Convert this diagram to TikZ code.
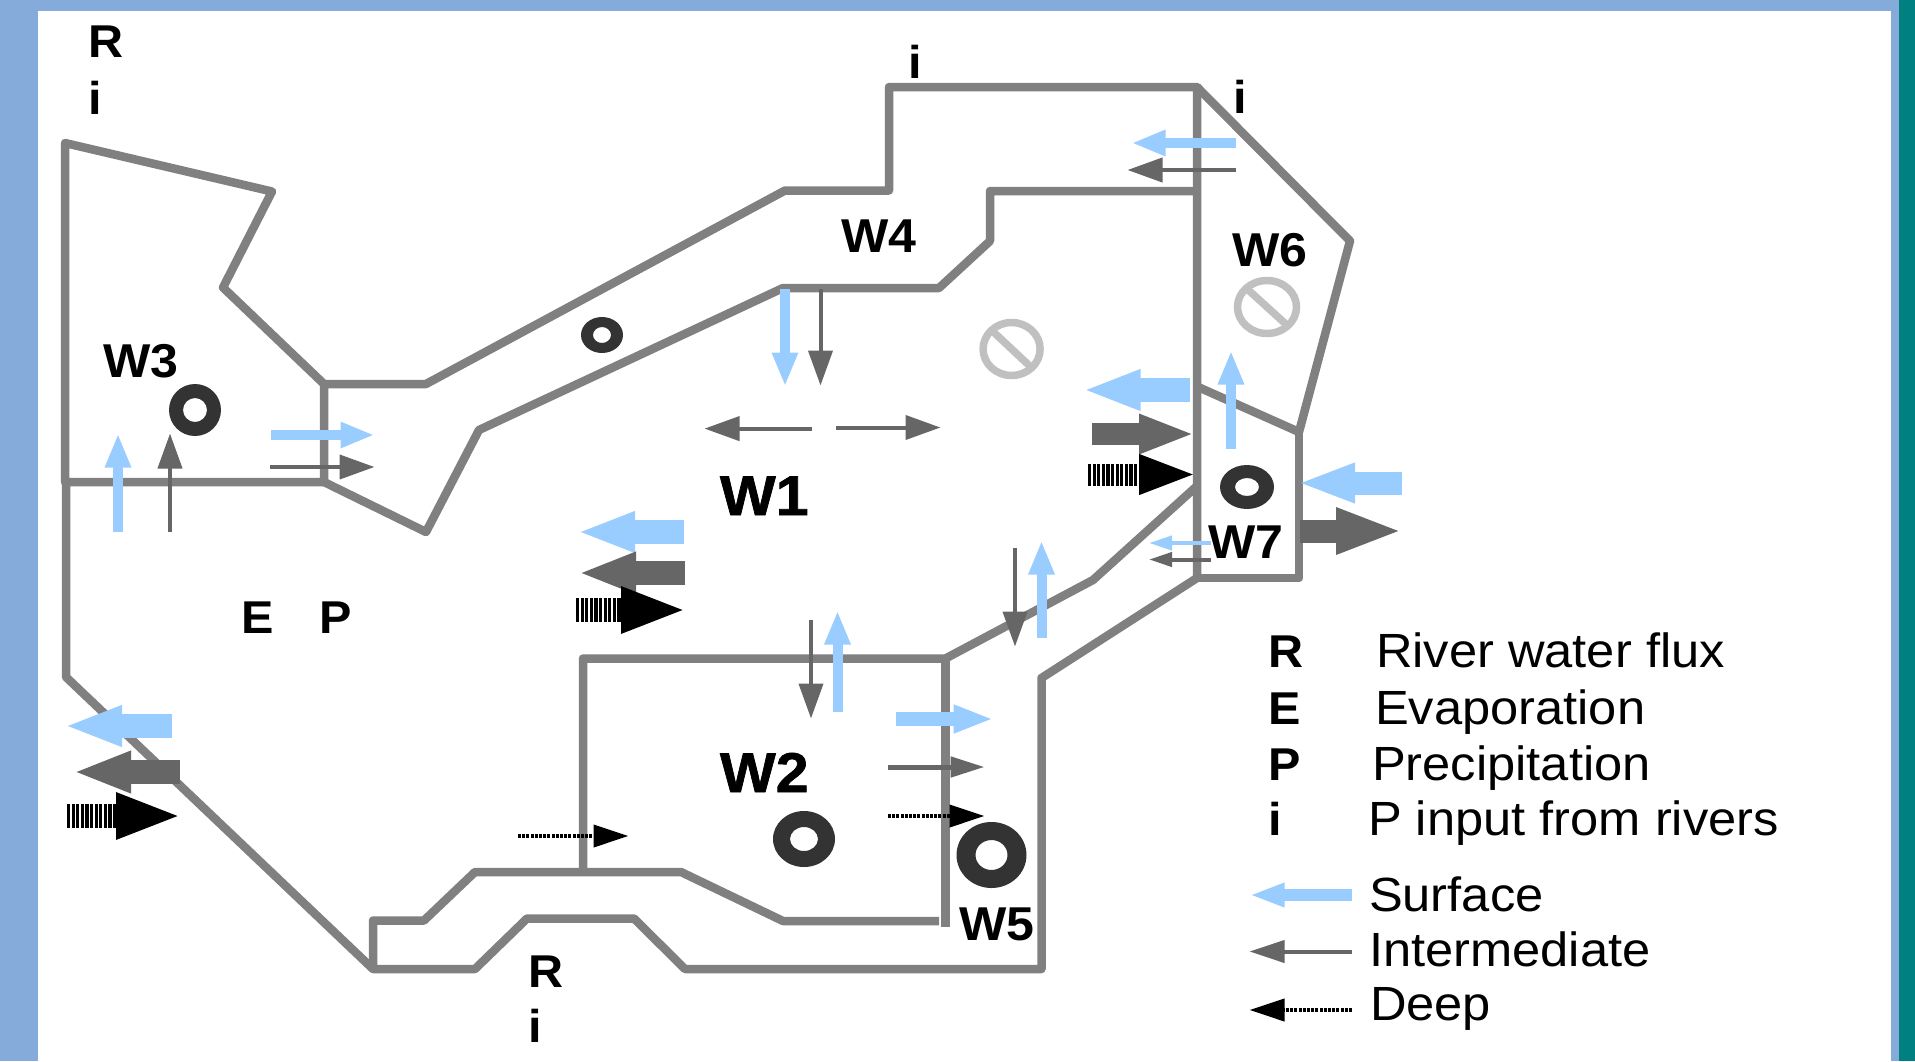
\documentclass[tikz,border=0pt]{standalone}
\usepackage{fontspec}
\setmainfont[FakeStretch=1.055]{Liberation Sans}
\newfontfamily\heavyface[FakeStretch=1.055,BoldFeatures={FakeBold=1.2}]{Liberation Sans}
\usetikzlibrary{arrows.meta}
\definecolor{frameblue}{HTML}{84ABD9}
\definecolor{frameteal}{HTML}{008080}
\definecolor{wall}{HTML}{808080}
\definecolor{surfc}{HTML}{99CCFF}
\definecolor{interc}{HTML}{666666}
\definecolor{ringc}{HTML}{333333}
\definecolor{stopc}{HTML}{C0C0C0}
\tikzset{
  x=1pt,y=-1pt,
  wallline/.style={draw=wall,line width=8.5pt,line join=round},
  lab/.style={anchor=base west,inner sep=0pt,outer sep=0pt,text=black,font=\fontsize{46}{46}\selectfont\bfseries},
  wlab/.style={lab,font=\fontsize{47.5}{48}\selectfont\bfseries},
  biglab/.style={lab,font=\fontsize{56}{56}\heavyface\selectfont\bfseries},
  leg/.style={anchor=base west,inner sep=0pt,outer sep=0pt,text=black,font=\fontsize{48}{48}\selectfont},
  flowhead/.style n args={3}{line width=#1,-{Triangle[length=#2,width=#3]}},
  smallext/.style={shorten >=-2.5pt},
  bigext/.style={shorten >=-5pt},
  bluesm/.style={draw=surfc,smallext,flowhead={10pt}{34pt}{24pt}},
  greysm/.style={draw=interc,smallext,flowhead={4pt}{35pt}{24pt}},
  deepsm/.style={draw=black,smallext,dash pattern=on 3pt off 1.2pt,flowhead={4pt}{35pt}{22pt}},
  bluebig/.style={draw=surfc,bigext,flowhead={24pt}{58pt}{37pt}},
  greybig/.style={draw=interc,bigext,flowhead={24pt}{58pt}{38pt}},
  deepbig/.style={draw=black,bigext,dash pattern=on 3.2pt off 1.4pt,flowhead={24pt}{66pt}{42pt}},
  bluetiny/.style={draw=surfc,flowhead={4pt}{23pt}{14pt}},
  greytiny/.style={draw=interc,flowhead={4pt}{23pt}{14pt}},
}
\newcommand{\ringmark}[6]{% x y rx ry hx hy
  \fill[ringc,even odd rule] (#1,#2) ellipse [x radius=#3,y radius=#4] (#1,#2) ellipse [x radius=#5,y radius=#6];}
\newcommand{\stopmark}[4]{% x y rx ry
  \draw[stopc,line width=7.5pt] (#1,#2) ellipse [x radius=#3-3.5,y radius=#4-3.5];
  \draw[stopc,line width=7.5pt] ({#1-0.62*#3},{#2-0.62*#4}) -- ({#1+0.62*#3},{#2+0.62*#4});}
\begin{document}
\begin{tikzpicture}
\useasboundingbox (0,0) rectangle (1915,1061);
% frame
\fill[frameblue] (0,0) rectangle (1915,1061);
\fill[frameteal] (1898.5,0) rectangle (1915,1061);
\fill[white] (38,11) rectangle (1891,1061);
% basin walls
\draw[wallline] (65,482) -- (65,143) -- (272,191.5) -- (223,287.5) -- (324,384) -- (324,482) -- cycle;
\draw[wallline] (324,384) -- (426,384) -- (785,190.5) -- (889,190.5) -- (889,87) -- (1197,87) -- (1197,578);
\draw[wallline] (324,482) -- (426,532) -- (479,430) -- (783,288) -- (939,288) -- (990,241) -- (990,191) -- (1197,191);
\draw[wallline] (1197,87) -- (1350,241) -- (1299,432) -- (1197,386.5);
\draw[wallline] (1299,432) -- (1299,578) -- (1197,578);
\draw[wallline] (1197,486) -- (1093,580) -- (945.5,658.5) -- (583,658.5) -- (583,872);
\draw[wallline] (945.5,658.5) -- (945.5,927);
\draw[wallline] (939,921) -- (783,921) -- (681,872) -- (475,872) -- (424,920.5) -- (373,920.5) -- (373,969);
\draw[wallline] (66,482) -- (66,677) -- (373,969) -- (475,969) -- (527,918.5) -- (634,918.5) -- (685,969) -- (1041.5,969) -- (1041.5,678) -- (1197,578);
% rings
\ringmark{195}{410}{26}{26}{12}{12}
\ringmark{602}{335}{21}{18}{9}{8}
\ringmark{1247}{487}{27}{22}{12}{9}
\ringmark{804}{839}{31}{28}{14}{12}
\ringmark{991.5}{855}{35}{33}{16}{15}
\stopmark{1011.6}{349}{32}{30}
\stopmark{1267}{307}{33}{30}
% fluxes
\draw[bluesm] (271,435) -- (372,435);
\draw[greysm] (270,467) -- (372,467);
\draw[bluesm] (118,532) -- (118,436);
\draw[greysm] (170,532) -- (170,436);
\draw[bluebig] (684,532) -- (582,532);
\draw[greybig] (685,573) -- (583,573);
\draw[deepbig] (576,610) -- (682,610);
\draw[bluebig] (172,726) -- (69,726);
\draw[greybig] (180,772) -- (78,772);
\draw[deepbig] (67,816) -- (177,816);
\draw[deepsm] (518,836) -- (626,836);
\draw[greysm] (811,620) -- (811,716);
\draw[bluesm] (837.5,712) -- (837.5,613);
\draw[greysm] (1015,548) -- (1015,644);
\draw[bluesm] (1041.5,638) -- (1041.5,543);
\draw[draw=surfc,smallext,flowhead={14pt}{40pt}{26pt}] (896,719) -- (991,719);
\draw[draw=interc,smallext,flowhead={5pt}{34pt}{20pt}] (888,767) -- (982,767);
\draw[deepsm] (888,816) -- (982,816);
\draw[bluesm] (785,289) -- (785,384);
\draw[greysm] (820.5,289) -- (820.5,383);
\draw[greysm] (812,428.6) -- (707,428.6);
\draw[greysm] (836,427.5) -- (938,427.5);
\draw[bluebig] (1190,390) -- (1087.5,390);
\draw[draw=interc,bigext,flowhead={22pt}{56pt}{36pt}] (1092,434) -- (1190,434);
\draw[draw=black,bigext,dash pattern=on 3.2pt off 1.4pt,flowhead={22pt}{58pt}{36pt}] (1088,474.5) -- (1192,474.5);
\draw[bluesm] (1236,143) -- (1134,143);
\draw[greysm] (1236,170) -- (1130,170);
\draw[bluesm] (1231,448.5) -- (1231,353);
\draw[draw=surfc,bigext,flowhead={23pt}{58pt}{36pt}] (1402,483) -- (1302,483);
\draw[draw=interc,bigext,flowhead={23pt}{67pt}{42pt}] (1300,531) -- (1398,531);
\draw[bluetiny] (1211,543) -- (1149,543);
\draw[greytiny] (1211,559.5) -- (1149,559.5);
% legend arrows
\draw[draw=surfc,smallext,flowhead={12pt}{35pt}{22pt}] (1352,895) -- (1252,895);
\draw[draw=interc,smallext,flowhead={4pt}{35pt}{22pt}] (1352,951.5) -- (1252,951.5);
\draw[deepsm] (1352,1010) -- (1252,1010);
% map labels
\node[lab] (rtl) at (88,57) {R};
\node[lab] (itl) at (88,114) {i};
\node[wlab] (w3) at (103.6,377) {W3};
\node[wlab] (w4) at (841,252) {W4};
\node[wlab] (w6) at (1232,266) {W6};
\node[wlab] (w7) at (1208,558) {W7};
\node[wlab] (w5) at (959,940) {W5};
\node[biglab] (w1) at (720,515) {W1};
\node[biglab] (w2) at (720,792) {W2};
\node[lab] (emap) at (241,633) {E};
\node[lab] (pmap) at (319,633) {P};
\node[lab] (rbot) at (528,987) {R};
\node[lab] (ibot) at (528,1042) {i};
\node[lab] (itop) at (908,78.5) {i};
\node[lab] (iright) at (1233,113) {i};
% legend text
\node[lab] (lr) at (1268,667) {R};
\node[lab] (le) at (1268,724) {E};
\node[lab] (lp) at (1268,780) {P};
\node[lab] (li) at (1268,835) {i};
\node[leg] (t1) at (1376,667) {River water flux};
\node[leg] (t2) at (1375,724) {Evaporation};
\node[leg] (t3) at (1372,780) {Precipitation};
\node[leg] (t4) at (1368,835) {P input from rivers};
\node[leg] (t5) at (1369,911) {Surface};
\node[leg] (t6) at (1369,966) {Intermediate};
\node[leg] (t7) at (1370,1020) {Deep};
\end{tikzpicture}
\end{document}
